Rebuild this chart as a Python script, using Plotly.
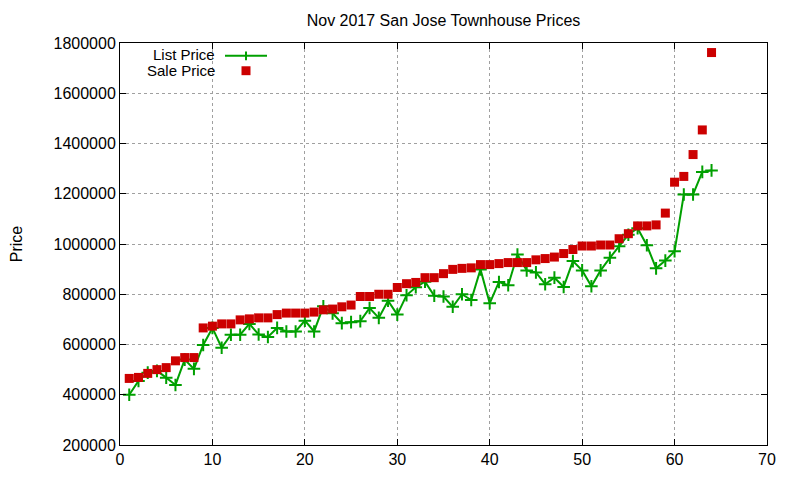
import plotly.graph_objects as go

# index of each home in the listing (sorted by sale price)
homes = list(range(1, 65))

list_price = [
    400000, 455000, 488000, 495000, 468000, 439000, 540000, 503000, 598000, 666000,
    587000, 639000, 639000, 682000, 640000, 630000, 666000, 652000, 652000, 695000,
    652000, 752000, 724000, 685000, 689000, 693000, 745000, 706000, 774000, 719000,
    796000, 828000, 850000, 794000, 791000, 750000, 800000, 777000, 899000, 764000,
    849000, 836000, 958000, 895000, 887000, 840000, 866000, 829000, 932000, 895000,
    832000, 895000, 945000, 991000, 1037000, 1063000, 995000, 903000, 934000, 971000,
    1197000, 1197000, 1287000, 1293000,
]

sale_price = [
    465000, 469000, 485000, 500000, 508000, 535000, 548000, 548000, 666000, 673000,
    682000, 682000, 698000, 702000, 706000, 706000, 719000, 725000, 725000, 725000,
    729000, 738000, 741000, 750000, 757000, 791000, 791000, 800000, 800000, 827000,
    842000, 847000, 866000, 866000, 882000, 899000, 903000, 905000, 918000, 918000,
    922000, 926000, 926000, 926000, 937000, 942000, 948000, 962000, 978000, 992000,
    992000, 996000, 996000, 1021000, 1041000, 1072000, 1072000, 1076000, 1123000, 1246000,
    1269000, 1356000, 1454000, 1762000,
]

green = "#00a000"
red = "#cc0000"
font = "Liberation Sans, Arial, sans-serif"

fig = go.Figure()

fig.add_trace(go.Scatter(
    x=homes, y=list_price, name="List Price", mode="lines+markers",
    line=dict(color=green, width=2),
    marker=dict(symbol="cross-thin", size=9, line=dict(color=green, width=2)),
))
fig.add_trace(go.Scatter(
    x=homes, y=sale_price, name="Sale Price", mode="markers",
    marker=dict(symbol="square", size=9, color=red),
))

axis_style = dict(
    showline=True, linecolor="black", linewidth=1, mirror="ticks",
    ticks="inside", ticklen=6, tickcolor="black",
    showgrid=True, gridcolor="#a0a0a0", gridwidth=1, griddash="dot",
    zeroline=False, tickfont=dict(family=font, size=16, color="black"),
)

fig.update_xaxes(range=[0, 70], dtick=10, **axis_style)
fig.update_yaxes(range=[200000, 1800000], dtick=200000, tickformat="d",
                 title=dict(text="Price", font=dict(family=font, size=16, color="black"),
                            standoff=31),
                 automargin=False, **axis_style)

# gnuplot-style key: text on the left, sample on the right
# (pixel positions measured in the 800x480 window, page has an 8px body margin)
W, H = 647, 406  # plot area in pixels


def px(x):
    return (x - 120) / W


def py(y):
    return (449 - y) / H


for label, ypix in [("List Price", 55), ("Sale Price", 71)]:
    fig.add_annotation(x=px(217), y=py(ypix), xref="paper", yref="paper",
                       text=label, showarrow=False, xanchor="right", yanchor="middle",
                       font=dict(family=font, size=15, color="black"))

fig.add_shape(type="line", xref="paper", yref="paper",
              x0=px(225), x1=px(267), y0=py(56), y1=py(56),
              line=dict(color=green, width=2))
fig.add_shape(type="line", xref="paper", yref="paper",
              x0=px(246), x1=px(246), y0=py(51.5), y1=py(60.5),
              line=dict(color=green, width=2))
fig.add_shape(type="rect", xref="paper", yref="paper",
              x0=px(241.5), x1=px(250.5), y0=py(66.5), y1=py(75.5),
              fillcolor=red, line=dict(width=0))

fig.update_layout(
    width=792, height=472,
    margin=dict(l=112, r=33, t=35, b=31),
    paper_bgcolor="white", plot_bgcolor="white",
    showlegend=False,
    title=dict(text="Nov 2017 San Jose Townhouse Prices", x=0.5, xref="paper",
               y=1 - 12 / 472, yref="container", yanchor="middle", xanchor="center",
               font=dict(family=font, size=16, color="black")),
    font=dict(family=font, size=16, color="black"),
)

fig.write_html("out.html")
